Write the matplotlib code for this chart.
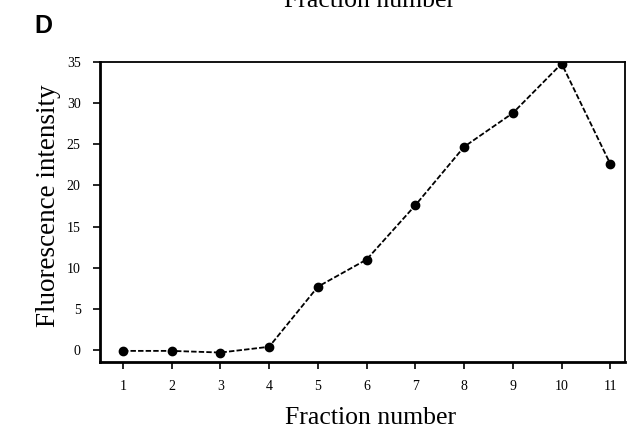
import matplotlib
matplotlib.use("Agg")
import matplotlib.pyplot as plt

fractions = [1, 2, 3, 4, 5, 6, 7, 8, 9, 10, 11]
intensity = [-0.1, -0.1, -0.3, 0.4, 7.7, 11.0, 17.6, 24.7, 28.8, 34.8, 22.6]
yticks = [0, 5, 10, 15, 20, 25, 30, 35]

plt.rcParams['font.family'] = ['Liberation Serif', 'DejaVu Serif']

fig = plt.figure(figsize=(6.35, 4.33), dpi=100)
ax = fig.add_axes([100/635, 1 - 362/433, 525/635, 300/433])

ax.plot(fractions, intensity, color='black', lw=1.3, linestyle=(0, (3, 1.2)),
        marker='o', ms=6, markerfacecolor='black', markeredgecolor='black')

ax.set_xlim(0.53, 11.3)
ax.set_ylim(-1.45, 35)
ax.set_xticks(fractions)
ax.set_yticks(yticks)
ax.tick_params(axis='both', direction='out', length=5, width=1.2, labelsize=10,
               top=False, right=False, colors='black')
ax.tick_params(axis='y', pad=9)
ax.tick_params(axis='x', pad=8)

for side in ['left', 'bottom']:
    ax.spines[side].set_linewidth(2.0)
for side in ['top', 'right']:
    ax.spines[side].set_linewidth(1.3)

ax.set_ylabel('Fluorescence intensity', fontsize=19.5)
ax.yaxis.set_label_coords(-0.075, 0.52)
ax.set_xlabel('Fraction number', fontsize=18.5)
ax.xaxis.set_label_coords(0.015 + 0.5, -0.15)

fig.text(370/635, 1 - 7/433, 'Fraction number', fontsize=18.5, ha='center',
         va='baseline')
fig.text(34/635, 1 - 33/433, 'D', fontsize=18, fontweight='bold',
         family=['Liberation Sans', 'DejaVu Sans'], ha='left', va='baseline')

fig.savefig('out.png', dpi=100)
